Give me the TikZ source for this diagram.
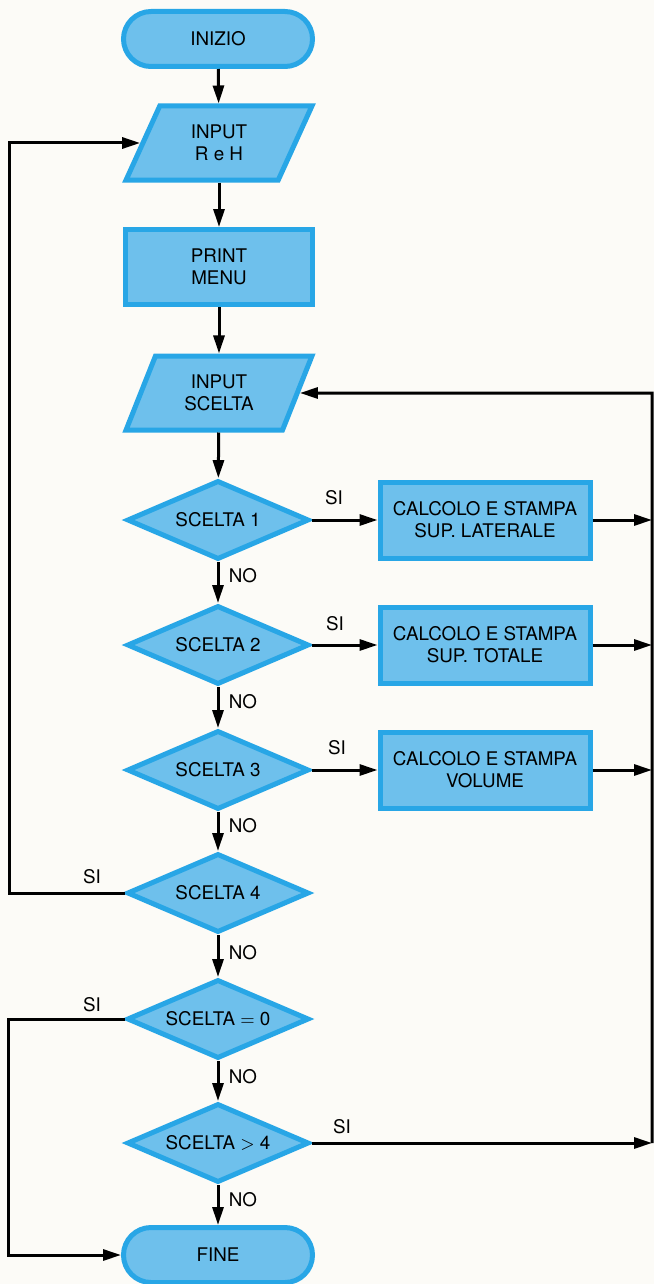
\documentclass[tikz,border=0pt]{standalone}
\usepackage{fontspec}
\setmainfont{TeX Gyre Heros}
\usetikzlibrary{shapes.geometric,shapes.misc,arrows.meta}

\definecolor{boxfill}{RGB}{110,192,236}
\definecolor{boxline}{RGB}{40,166,230}
\definecolor{paper}{RGB}{252,251,247}

\tikzset{
  base/.style={draw=boxline, fill=boxfill, line width=2.5pt, align=center,
    font=\fontsize{9.4}{11}\selectfont, inner sep=0pt},
  term/.style={base, rounded rectangle, minimum width=94.5pt, minimum height=27.5pt},
  proc/.style={base, rectangle, minimum width=93.5pt, minimum height=37.5pt},
  calc/.style={base, rectangle, minimum width=105pt, minimum height=38pt},
  io/.style={base, trapezium, trapezium left angle=66, trapezium right angle=114,
    trapezium stretches=true, minimum width=93pt, minimum height=37pt},
  test/.style={base, diamond, aspect=2.5, minimum width=91pt, minimum height=39.5pt},
  arr/.style={line width=1.5pt, -{Triangle[length=9pt,width=5.5pt]}},
  lin/.style={line width=1.5pt},
  lbl/.style={font=\fontsize{9.4}{11}\selectfont, inner sep=0pt}
}

\begin{document}
\begin{tikzpicture}[x=0.5pt, y=-0.5pt]
  \fill[paper] (0,0) rectangle (654,1284);
  \useasboundingbox (0,0) rectangle (654,1284);

  % main column
  \node[term] (start) at (218,39)  {INIZIO};
  \node[io]   (in1)   at (219,143) {INPUT\\R e H};
  \node[proc] (menu)  at (219,267) {PRINT\\MENU};
  \node[io]   (in2)   at (219,393) {INPUT\\SCELTA};
  \node[test] (g1)    at (218,520) {SCELTA 1};
  \node[test] (g2)    at (218,645) {SCELTA 2};
  \node[test] (g3)    at (218,770) {SCELTA 3};
  \node[test] (g4)    at (218,893) {SCELTA 4};
  \node[test] (g5)    at (218,1019) {SCELTA $=$ 0};
  \node[test] (g6)    at (218,1143) {SCELTA $>$ 4};
  \node[term] (fine)  at (218,1255) {FINE};

  % calcoli
  \node[calc] (b1) at (485,520) {CALCOLO E STAMPA\\SUP. LATERALE};
  \node[calc] (b2) at (485,645) {CALCOLO E STAMPA\\SUP. TOTALE};
  \node[calc] (b3) at (485,770) {CALCOLO E STAMPA\\VOLUME};

  % bordi
  \coordinate (rtop) at (652,393);
  \coordinate (rbot) at (652,1143);
  \coordinate (lft1) at (9,0);
  \coordinate (lft2) at (8,0);

  \draw[arr] (start) -- (in1);
  \draw[arr] (in1) -- (menu);
  \draw[arr] (menu) -- (in2);
  \draw[arr] (in2) -- (g1);
  \draw[arr] (g1) -- (g2);
  \draw[arr] (g2) -- (g3);
  \draw[arr] (g3) -- (g4);
  \draw[arr] (g4) -- (g5);
  \draw[arr] (g5) -- (g6);
  \draw[arr] (g6) -- (fine);

  \draw[arr] (g1) -- (b1);
  \draw[arr] (g2) -- (b2);
  \draw[arr] (g3) -- (b3);
  \draw[arr] (b1.east) -- (b1.east -| rtop);
  \draw[arr] (b2.east) -- (b2.east -| rtop);
  \draw[arr] (b3.east) -- (b3.east -| rtop);
  \draw[arr] (g6.east) -- (rbot);
  \draw[arr] (rbot) -- (rtop) -- (in2.east);

  \draw[arr] (g4.west) -- (g4.west -| lft1) |- (in1.west);
  \draw[arr] (g5.west) -- (g5.west -| lft2) |- (fine.west);

  % etichette
  \node[lbl] (si1) at (334,498) {SI};
  \node[lbl] (si2) at (335,624) {SI};
  \node[lbl] (si3) at (337,748) {SI};
  \node[lbl] (si4) at (92,877)  {SI};
  \node[lbl] (si5) at (92,1005) {SI};
  \node[lbl] (si6) at (342,1127) {SI};
  \node[lbl] (no1) at (243,576)  {NO};
  \node[lbl] (no2) at (243,702)  {NO};
  \node[lbl] (no3) at (243,826)  {NO};
  \node[lbl] (no4) at (243,953)  {NO};
  \node[lbl] (no5) at (243,1077) {NO};
  \node[lbl] (no6) at (243,1200) {NO};
\end{tikzpicture}
\end{document}
